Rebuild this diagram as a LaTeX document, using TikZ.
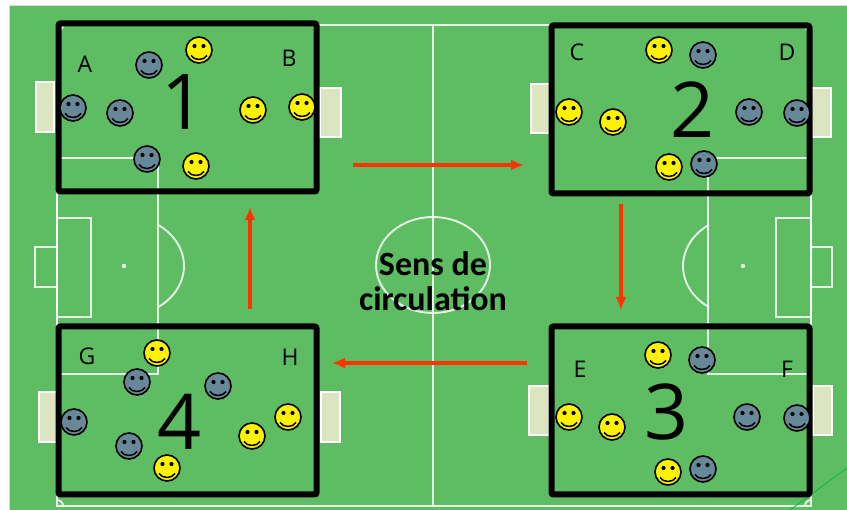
\documentclass[tikz,border=0pt]{standalone}
\usepackage{fontspec}
\setmainfont{Carlito}
\newfontfamily\chiffres{Open Sans}
\usetikzlibrary{arrows.meta}
\definecolor{gazon}{RGB}{94,188,98}
\definecolor{ardoise}{RGB}{103,136,153}
\definecolor{citron}{RGB}{255,242,0}
\definecolor{rouge}{RGB}{255,51,0}
\definecolor{filet}{RGB}{220,228,192}
\tikzset{%
  ligne/.style    = { draw = white, line width = 1.9pt, draw opacity = 0.85 },
  but/.style      = { fill = filet, draw = white, line width = 1.2pt },
  zone/.style     = { draw = black, line width = 6pt, rounded corners = 2pt, inner sep = 0pt,
                      minimum width = 258pt, minimum height = 168pt },
  fleche/.style   = { -{Latex[length=13pt, width=11pt]}, line width = 3.2pt,
                      draw = #1, fill = #1 },
  lettre/.style   = { font = \chiffres\fontsize{23}{23}\selectfont, inner sep = 0pt },
  numero/.style   = { font = \chiffres\fontsize{77}{77}\selectfont, inner sep = 0pt },
  joueur/.style   = { circle, draw = black, fill = #1, line width = 1.6pt,
                      minimum size = 26pt, inner sep = 0pt,
                      path picture = {
                        \fill[black] ([shift={(-4.5pt,4pt)}]path picture bounding box.center) circle (2.1pt)
                                     ([shift={(4.5pt,4pt)}]path picture bounding box.center) circle (2.1pt);
                        \draw[black, line width = 1.5pt]
                          ([shift={(-8pt,-5.5pt)}]path picture bounding box.center)
                          .. controls +(3pt,-5.3pt) and +(-3pt,-5.3pt) ..
                          ([shift={(8pt,-5.5pt)}]path picture bounding box.center);
                      } }
}

\begin{document}
\begin{tikzpicture}[x=1pt, y=-1pt]
\useasboundingbox (0,0) rectangle (847,510);
% terrain
\fill[gazon, draw=black!15] (9,5) rectangle (847,510);
\draw[ligne] (57,25) rectangle (811,506);
\draw[ligne] (433,25) -- (433,506);
\draw[ligne] (433,265) ellipse [x radius=57, y radius=48];
\draw[ligne] (57,158) rectangle (158,374) (57,218) rectangle (91,317) (35,247) rectangle (57,287);
\draw[ligne] (708,158) rectangle (811,374) (776,218) rectangle (811,317) (811,247) rectangle (832,287);
\draw[ligne] (124,266) ++(-55.5:60 and 50) arc[start angle=-55.5, end angle=55.5, x radius=60, y radius=50];
\draw[ligne] (743,266) ++(124.5:60 and 50) arc[start angle=124.5, end angle=235.5, x radius=60, y radius=50];
\fill[white, opacity=0.85] (124,266) circle (2.2pt) (743,266) circle (2.2pt);
\draw[ligne] (63,25) arc[start angle=0, end angle=90, radius=6]
             (57,500) arc[start angle=270, end angle=360, radius=6]
             (805,25) arc[start angle=180, end angle=90, radius=6]
             (811,500) arc[start angle=270, end angle=180, radius=6];
\draw[green!50!teal, line width=0.8pt] (847,468) -- (790,510);

% petits buts
\draw[but] (36,82) rectangle (54,132)   (320,88) rectangle (341,137);
\draw[but] (531,84) rectangle (550,133) (812,88) rectangle (831,137);
\draw[but] (529,386) rectangle (549,435) (813,386) rectangle (832,435);
\draw[but] (39,392) rectangle (57,442)  (321,392) rectangle (340,442);

% zones
\node(z1) [zone] at (187.5,107.5) {};
\node(z2) [zone] at (680.5,109.5) {};
\node(z3) [zone] at (680.5,410.5) {};
\node(z4) [zone] at (187.5,410.5) {};

\node(n1) [numero] at (184,102.5) {1};
\node(n2) [numero] at (693,110)   {2};
\node(n3) [numero] at (667,411.5) {3};
\node(n4) [numero] at (180,422)   {4};

\node(A) [lettre] at (85,64)    {A};
\node(B) [lettre] at (289,58)   {B};
\node(C) [lettre] at (577,52)   {C};
\node(D) [lettre] at (787,52)   {D};
\node(E) [lettre] at (580,369)  {E};
\node(F) [lettre] at (787,369)  {F};
\node(G) [lettre] at (87,356)   {G};
\node(H) [lettre] at (290,357)  {H};

% sens de circulation
\node(sens) [align=center, font=\bfseries\fontsize{34}{35}\selectfont, inner sep=0pt] at (433,281) {Sens de\\circulation};

\coordinate (f1a) at (353,165); \coordinate (f1b) at (524,165);
\coordinate (f2a) at (621,204); \coordinate (f2b) at (621,310);
\coordinate (f3a) at (527,363); \coordinate (f3b) at (332,363);
\coordinate (f4a) at (250,309); \coordinate (f4b) at (250,207);
\draw[fleche=rouge] (f1a) -- (f1b);
\draw[fleche=rouge] (f2a) -- (f2b);
\draw[fleche=rouge] (f3a) -- (f3b);
\draw[fleche=rouge] (f4a) -- (f4b);

% joueurs zone 1
\node(g11) [joueur=ardoise] at (149,65)  {};
\node(g12) [joueur=ardoise] at (73,108)  {};
\node(g13) [joueur=ardoise] at (120,113) {};
\node(g14) [joueur=ardoise] at (147,159) {};
\node(j11) [joueur=citron]  at (199,50)  {};
\node(j12) [joueur=citron]  at (196,166) {};
\node(j13) [joueur=citron]  at (253,110) {};
\node(j14) [joueur=citron]  at (302,107) {};
% joueurs zone 2
\node(j21) [joueur=citron]  at (659,50)  {};
\node(j22) [joueur=citron]  at (569,112) {};
\node(j23) [joueur=citron]  at (613,122) {};
\node(j24) [joueur=citron]  at (669,167) {};
\node(g21) [joueur=ardoise] at (703,55)  {};
\node(g22) [joueur=ardoise] at (749,112) {};
\node(g23) [joueur=ardoise] at (797,113) {};
\node(g24) [joueur=ardoise] at (704,164) {};
% joueurs zone 3
\node(j31) [joueur=citron]  at (658,355) {};
\node(j32) [joueur=citron]  at (569,417) {};
\node(j33) [joueur=citron]  at (612,427) {};
\node(j34) [joueur=citron]  at (668,472) {};
\node(g31) [joueur=ardoise] at (702,360) {};
\node(g32) [joueur=ardoise] at (747,417) {};
\node(g33) [joueur=ardoise] at (797,418) {};
\node(g34) [joueur=ardoise] at (703,469) {};
% joueurs zone 4
\node(j41) [joueur=citron]  at (157,353) {};
\node(j42) [joueur=citron]  at (167,468) {};
\node(j43) [joueur=citron]  at (252,436) {};
\node(j44) [joueur=citron]  at (288,417) {};
\node(g41) [joueur=ardoise] at (137,382) {};
\node(g42) [joueur=ardoise] at (218,386) {};
\node(g43) [joueur=ardoise] at (74,422)  {};
\node(g44) [joueur=ardoise] at (129,446) {};
\end{tikzpicture}
\end{document}
